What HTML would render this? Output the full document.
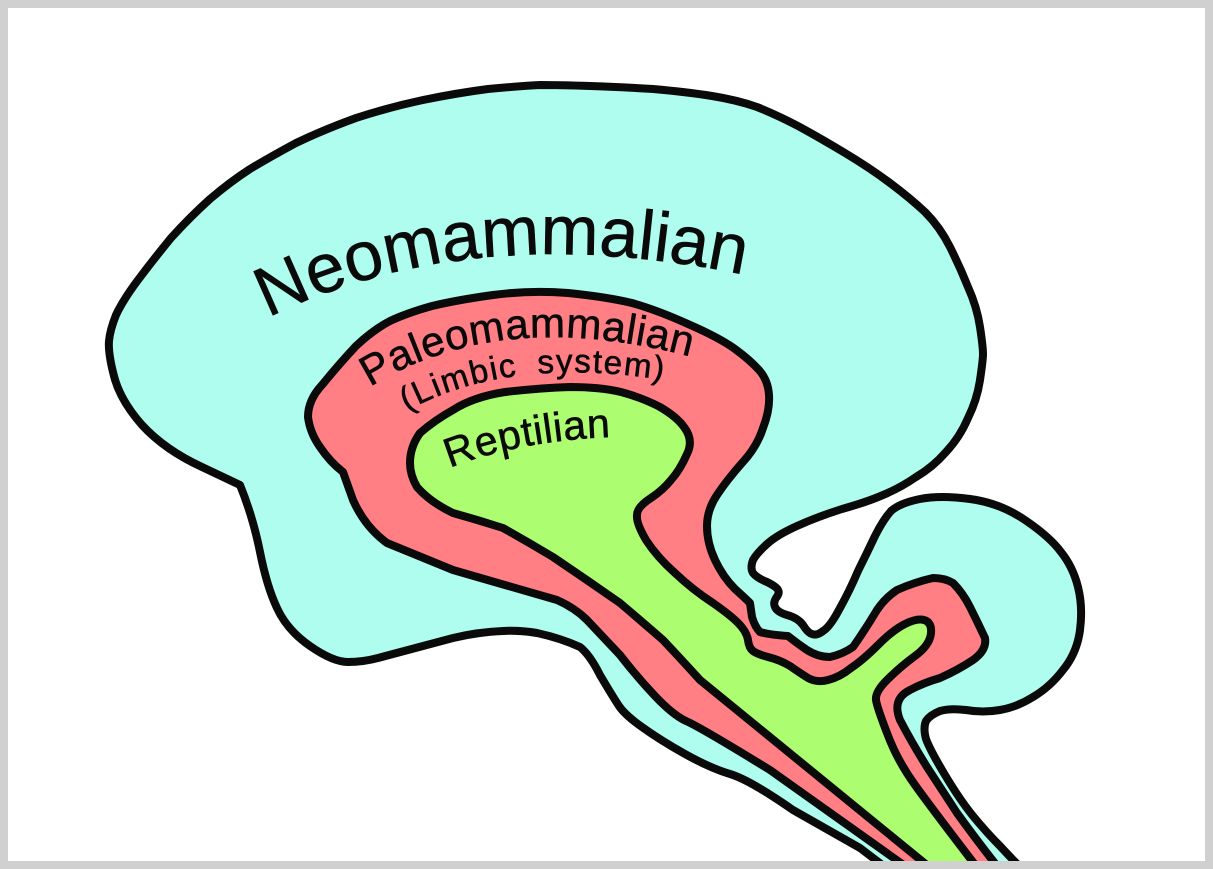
<!DOCTYPE html>
<html>
<head>
<meta charset="utf-8">
<style>
html,body{margin:0;padding:0;background:#fff;}
svg{display:block;}
text{font-family:"Liberation Sans",sans-serif;fill:#0a0a0a;stroke:#0a0a0a;stroke-width:.6;}
</style>
</head>
<body>
<svg width="1213" height="869" viewBox="0 0 1213 869" xmlns="http://www.w3.org/2000/svg">
<rect width="1213" height="869" fill="#fff"/>
<g stroke="#0a0a0a" stroke-width="8" stroke-linejoin="round">
<path fill="#aefdee" d="M240 485 L202 467 Q165 450 142 425 Q120 400 114 376 Q108 353 109 341 Q110 330 116 315 Q123 300 138 280 Q153 260 171 238 Q190 217 210 199 Q230 182 250 169 Q270 157 296 143 Q323 130 356 118 Q390 107 423 100 Q457 93 488 89 Q520 86 540 85 Q560 85 590 86 Q620 87 653 89 Q687 92 712 96 Q737 100 757 107 Q777 115 798 126 Q820 138 845 153 Q870 168 890 183 Q910 198 925 212 Q940 227 950 247 Q960 267 968 287 Q977 307 980 327 Q983 347 983 354 Q983 360 980 380 Q977 400 968 418 Q960 437 946 452 Q933 467 916 477 Q900 488 883 495 Q867 502 842 509 Q817 517 797 526 Q777 535 767 544 Q757 553 753 560 Q750 568 753 573 Q757 578 767 582 Q777 587 778 590 Q780 593 776 598 Q773 603 775 607 Q777 612 787 615 Q798 618 803 625 Q808 633 812 634 Q817 636 823 631 Q830 627 840 608 Q850 590 858 571 Q867 553 875 536 Q883 520 891 511 Q900 503 920 499 Q940 495 970 499 Q1000 503 1025 520 Q1050 537 1061 552 Q1073 567 1078 587 Q1083 607 1080 630 Q1077 653 1063 670 Q1050 687 1033 697 Q1017 707 1000 710 Q983 713 966 710 Q950 708 940 711 Q930 715 926 721 Q923 728 926 739 Q930 750 945 775 Q960 800 973 816 Q987 833 1000 846 Q1013 860 1020 867 L885 867 L860 848 L793 810 Q750 780 730 774 Q710 768 685 754 Q660 740 642 727 Q625 715 619 706 Q613 697 600 675 Q590 655 580 647 Q560 638 537 633 Q520 630 503 631 Q478 632 453 638 Q408 650 378 658 Q363 662 348 662 Q333 662 310 646 Q287 630 277 608 Q267 587 260 552 Q253 517 240 485 Z"/>
<path fill="#ff7f85" d="M568 293 Q607 297 632 303 Q657 310 688 324 Q720 338 735 349 Q750 360 759 370 Q768 380 769 395 Q770 410 763 428 Q757 447 742 463 Q727 480 717 495 Q707 510 707 526 Q707 543 715 560 Q723 577 735 589 Q745 598 750 603 L752 617 Q755 627 760 632 Q770 635 788 636 Q798 644 807 650 Q818 657 830 657 Q843 654 853 647 Q865 630 877 610 Q885 598 897 590 Q915 582 933 578 Q945 578 953 583 Q963 593 970 607 Q978 623 985 638 Q987 650 973 660 Q958 670 940 678 Q923 683 910 690 Q900 695 898 703 Q896 710 900 720 Q912 743 927 767 Q942 790 957 813 Q975 838 997 866 L905 866 L770 770 Q700 727 686 721 Q673 715 655 696 Q637 677 620 655 Q603 637 587 620 Q575 608 557 600 L453 570 L387 543 Q365 527 353 500 L343 472 Q330 462 320 447 Q310 433 308 417 Q308 400 322 385 Q340 363 356 346 Q373 330 390 321 Q407 313 432 306 Q457 300 493 295 Q530 290 568 293 Z"/>
<path fill="#adfd70" d="M570 387 Q600 387 621 392 Q643 398 660 407 Q677 417 684 427 Q694 440 687 454 Q680 470 671 480 Q663 490 651 498 Q637 507 637 515 Q636 523 646 540 Q657 557 675 573 Q693 590 713 603 Q733 617 740 625 Q747 633 748 640 Q749 648 753 651 Q757 654 768 657 Q780 660 790 666 Q800 673 808 678 Q817 683 828 680 Q840 677 851 668 Q863 660 878 645 Q893 630 905 624 Q917 618 924 620 Q932 622 931 633 Q930 645 915 656 Q900 667 887 680 Q875 692 876 700 Q877 707 887 733 Q897 760 915 785 Q933 810 976 866 L928 866 L700 680 Q680 658 663 640 Q640 620 620 603 Q587 580 553 557 Q528 542 503 528 Q478 520 453 513 Q430 502 417 487 Q410 475 410 463 Q410 447 420 433 Q435 420 453 410 Q473 397 505 392 Q540 388 570 387 Z"/>
</g>
<defs>
<path id="a" d="M268 318 Q470 218 745 275"/>
<path id="b" d="M370 387 Q500 306 692 357"/>
<path id="c" d="M407 411 Q510 354 670 381"/>
<path id="d" d="M450 468 Q520 440 615 437"/>
</defs>
<text font-size="69.5"><textPath href="#a">Neomammalian</textPath></text>
<text font-size="42" letter-spacing=".5"><textPath href="#b">Paleomammalian</textPath></text>
<text font-size="33" letter-spacing="1.6" word-spacing="9"><textPath href="#c">(Limbic system)</textPath></text>
<text font-size="41" letter-spacing=".6"><textPath href="#d">Reptilian</textPath></text>
<path fill="#d0d0d0" fill-rule="evenodd" stroke="none" d="M0 0H1213V869H0Z M8 8V861H1205V8Z"/>
</svg>
</body>
</html>
